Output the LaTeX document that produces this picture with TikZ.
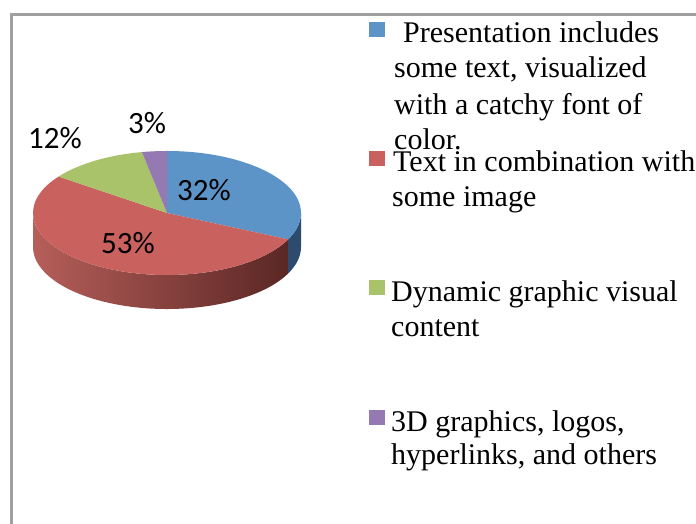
\documentclass[tikz,border=0pt]{standalone}
\usepackage{fontspec}
\setmainfont{Liberation Serif}
\newfontfamily\pctfont{Carlito}
\usetikzlibrary{calc}
\definecolor{framegray}{HTML}{A0A0A0}
\definecolor{blueTop}{HTML}{5D94C8}
\definecolor{redTop}{HTML}{C9625E}
\definecolor{greenTop}{HTML}{A9C36B}
\definecolor{purpleTop}{HTML}{9479B3}
\definecolor{blueSide}{HTML}{2D4B6C}
\definecolor{redSideL}{HTML}{B65E5A}
\definecolor{redSideM}{HTML}{8A3F3C}
\definecolor{redSideD}{HTML}{5A2724}
\begin{document}
\begin{tikzpicture}[x=1pt,y=1pt,
  legtext/.style={anchor=base west, inner sep=0pt, font=\fontsize{30}{30}\selectfont},
  pct/.style={font=\pctfont\fontsize{31}{31}\selectfont, inner sep=0pt},
  legsq/.style={minimum size=15.5pt, inner sep=0pt, outer sep=0pt, draw=none}]
\useasboundingbox (0,0) rectangle (696,524);
\fill[white] (0,0) rectangle (696,524);
% frame
\draw[line width=3pt, framegray] (11,0) -- (11,509) -- (697,509);
% pie
\coordinate (C) at (167,311);
% sides
\path[left color=redSideL, middle color=redSideM, right color=redSideD]
  ($(C)+(180:134pt and 62pt)$) arc[start angle=180, end angle=334.8, x radius=134pt, y radius=62pt]
  -- ++(0,-34) arc[start angle=334.8, end angle=180, x radius=134pt, y radius=62pt] -- cycle;
\path[fill=blueSide]
  ($(C)+(334.8:134pt and 62pt)$) arc[start angle=334.8, end angle=360, x radius=134pt, y radius=62pt]
  -- ++(0,-34) arc[start angle=360, end angle=334.8, x radius=134pt, y radius=62pt] -- cycle;
% top face
\fill[blueTop] (C) -- ($(C)+(90:134pt and 62pt)$) arc[start angle=90, end angle=-25.2, x radius=134pt, y radius=62pt] -- cycle;
\fill[redTop] (C) -- ($(C)+(-25.2:134pt and 62pt)$) arc[start angle=-25.2, end angle=-216, x radius=134pt, y radius=62pt] -- cycle;
\fill[greenTop] (C) -- ($(C)+(-216:134pt and 62pt)$) arc[start angle=-216, end angle=-259.2, x radius=134pt, y radius=62pt] -- cycle;
\fill[purpleTop] (C) -- ($(C)+(-259.2:134pt and 62pt)$) arc[start angle=-259.2, end angle=-270, x radius=134pt, y radius=62pt] -- cycle;
% percentages
\node[pct] (p32) at (204,334) {32\%};
\node[pct] (p53) at (128,281) {53\%};
\node[pct] (p12) at (55,386) {12\%};
\node[pct] (p3) at (147,401) {3\%};
% legend squares
\node[legsq, fill=blueTop] (sq1) at (377,494.5) {};
\node[legsq, fill=redTop] (sq2) at (377,365.5) {};
\node[legsq, fill=greenTop] (sq3) at (377,236.5) {};
\node[legsq, fill=purpleTop] (sq4) at (377,106.5) {};
% legend texts
\node[legtext] (l1a) at (403,481) {Presentation includes};
\node[legtext] (l1b) at (394,446) {some text, visualized};
\node[legtext] (l1c) at (394,409) {with a catchy font of};
\node[legtext] (l1d) at (394,374) {color.};
\node[legtext] (l2a) at (393,352) {Text in combination with};
\node[legtext] (l2b) at (392,317) {some image};
\node[legtext] (l3a) at (391,222) {Dynamic graphic visual};
\node[legtext] (l3b) at (391,187) {content};
\node[legtext] (l4a) at (391,92) {3D graphics, logos,};
\node[legtext] (l4b) at (391,59) {hyperlinks, and others};
\end{tikzpicture}
\end{document}
